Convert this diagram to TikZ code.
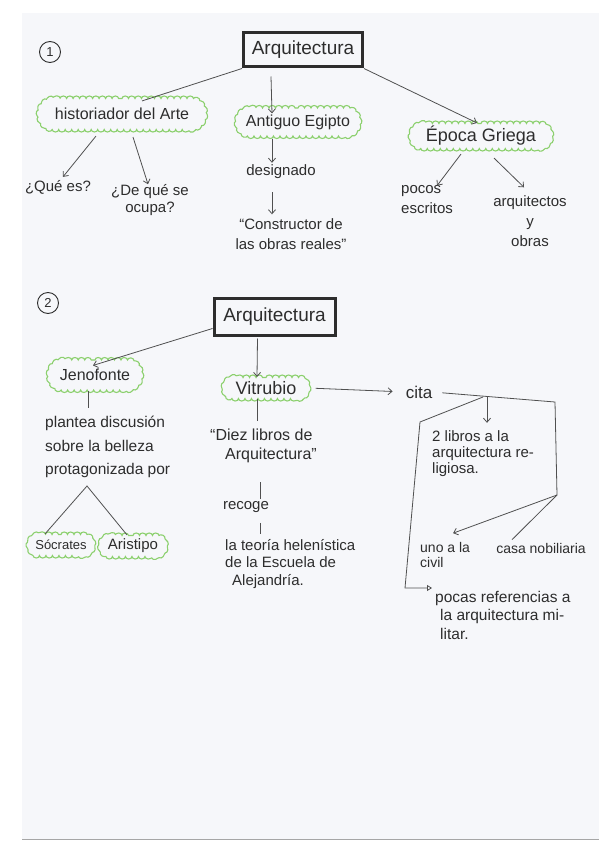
\documentclass[tikz,border=0pt]{standalone}
\usepackage{fontspec}
\setmainfont{Liberation Sans}
\usepackage{tikz}
\usetikzlibrary{shapes,shapes.misc,decorations.pathmorphing,arrows.meta,calc,positioning}
\definecolor{leaf}{RGB}{140,208,110}
\definecolor{ink}{RGB}{45,45,45}
\definecolor{pencil}{RGB}{80,80,80}
\definecolor{paper}{RGB}{246,247,250}
\tikzset{
	x=1pt,y=-1pt,
	title/.style={draw=ink,line width=3pt,minimum width=119pt,minimum height=34pt,inner sep=0pt,font=\fontsize{19}{19}\selectfont,text=ink},
	idea/.style={rounded rectangle,draw=leaf,line width=1.1pt,decorate,decoration={bumps,segment length=13pt,amplitude=2.5pt},inner sep=0pt,text=ink,font=\fontsize{16}{16}\selectfont},
	num/.style={circle,draw=ink,line width=0.9pt,minimum size=21pt,inner sep=0pt,font=\fontsize{13}{13}\selectfont,text=ink},
	txt/.style={inner sep=0pt,text=ink,font=\fontsize{15}{20}\selectfont},
	conn/.style={draw=pencil,line width=0.8pt},
	barb/.style={conn,-{Straight Barb[length=4pt,width=7pt]}},
	tri/.style={conn,-{Triangle[open,length=5pt,width=6pt]}},
	edge/.style={draw=black!35,line width=0.8pt}
}
\begin{document}
\begin{tikzpicture}
    \useasboundingbox (0,0) rectangle (599,848);
    \fill[paper] (22,13) rectangle (599,839);
    \draw[edge] (22,839) -- (599,839);

    \node[num] (one) at (50,52) {1};
    \node[title] (arq1) at (303,50) {Arquitectura};
    \node[idea,minimum width=166pt,minimum height=31pt] (hist) at (122,114) {historiador del Arte};
    \node[idea,minimum width=122pt,minimum height=28pt] (egipto) at (298,122) {Antiguo Egipto};
    \node[idea,minimum width=140pt,minimum height=25pt,font=\fontsize{18}{18}\selectfont] (griega) at (481,136) {Época Griega};
    \node[txt] (que) at (58,187) {¿Qué es?};
    \node[txt,align=center,font=\fontsize{15}{17}\selectfont] (ocupa) at (150,200) {¿De qué se\\ocupa?};
    \node[txt] (desig) at (281,172) {designado};
    \node[txt,align=center] (constr) at (291,234) {“Constructor de\\las obras reales”};
    \node[txt,align=left,anchor=west] (pocos) at (401,200) {pocos\\escritos};
    \node[txt,align=center] (arqobr) at (530,221) {arquitectos\\y\\obras};

    \draw[conn] (arq1.south west) -- ([xshift=20pt,yshift=-3pt]hist.north);
    \draw[barb] ([xshift=-32pt,yshift=-8pt]arq1.south) -- ([xshift=-26pt,yshift=-6pt]egipto.north);
    \draw[barb] (arq1.south east) -- ([xshift=-4pt]griega.north);
    \draw[barb] ([xshift=-26pt,yshift=-6pt]hist.south) -- ([xshift=5pt,yshift=3pt]que.north);
    \draw[barb] ([xshift=11pt,yshift=-7pt]hist.south) -- ([xshift=-2pt]ocupa.north);
    \draw[barb] ([xshift=-26pt,yshift=-2pt]egipto.south) -- ([xshift=-9pt,yshift=2pt]desig.north);
    \draw[barb] ([xshift=-9pt,yshift=-13pt]desig.south) -- ([xshift=-19pt,yshift=4pt]constr.north);
    \draw[barb] ([xshift=-20pt,yshift=-5pt]griega.south) -- ([xshift=10pt]pocos.north);
    \draw[barb] ([xshift=13pt,yshift=-9pt]griega.south) -- ([xshift=-6pt,yshift=8pt]arqobr.north);

    \node[num] (two) at (48,303) {2};
    \node[title,minimum width=121pt,minimum height=37pt] (arq2) at (274.5,316.5) {Arquitectura};
    \node[idea,minimum width=92pt,minimum height=30pt] (jeno) at (95,375) {Jenofonte};
    \node[idea,minimum width=84pt,minimum height=21pt,font=\fontsize{18}{18}\selectfont] (vitr) at (266,388) {Vitrubio};
    \node[txt,align=left,anchor=west,font=\fontsize{15.5}{23.5}\selectfont] (plantea) at (45,447) {plantea discusión\\sobre la belleza\\protagonizada por};
    \node[idea,minimum width=64pt,minimum height=21pt,font=\fontsize{13}{13}\selectfont] (socr) at (61,545) {Sócrates};
    \node[idea,minimum width=65pt,minimum height=21pt,font=\fontsize{15}{15}\selectfont] (arist) at (133,546) {Aristipo};
    \coordinate (apex) at (87,486);
    \node[txt,align=left,anchor=west,font=\fontsize{16}{19}\selectfont] (diez) at (210,446) {“Diez libros de\\\hspace*{15pt}Arquitectura”};
    \node[txt] (recoge) at (246,507) {recoge};
    \node[txt,align=left,anchor=west,font=\fontsize{15}{17.5}\selectfont] (teoria) at (225,564) {la teoría helenística\\de la Escuela de\\\hspace*{7pt}Alejandría.};
    \node[txt,font=\fontsize{17}{17}\selectfont] (cita) at (419,392) {cita};
    \coordinate (cr) at (555,402);
    \coordinate (cb) at (557,495);
    \coordinate (j1) at (487,396);
    \coordinate (j2) at (483,397);
    \coordinate (cl) at (420,422);
    \coordinate (cbl) at (405,588);
    \node[txt,align=left,anchor=west,font=\fontsize{15}{16}\selectfont] (libros) at (432,454) {2 libros a la\\arquitectura re-\\ligiosa.};
    \node[txt,align=left,anchor=west,font=\fontsize{14}{15}\selectfont] (uno) at (420,555) {uno a la\\civil};
    \node[txt,font=\fontsize{14}{14}\selectfont] (casa) at (541,548) {casa nobiliaria};
    \node[txt,align=left,anchor=west,font=\fontsize{15.5}{18.5}\selectfont] (pocas) at (435,615) {pocas referencias a\\\hspace*{5pt}la arquitectura mi-\\\hspace*{5pt}litar.};

    \draw[barb] ([yshift=-12pt]arq2.west) -- ([xshift=-2pt,yshift=-6pt]jeno.north);
    \draw[barb] ([xshift=-17pt,yshift=-2pt]arq2.south) -- ([xshift=-9pt]vitr.north);
    \draw[conn,shorten >=8pt] ([xshift=-7pt]jeno.south) -- ([xshift=-7pt]jeno.south |- plantea.north);
    \draw[conn] ([xshift=-16pt]socr.north) -- (apex) -- ([xshift=-6pt]arist.north);
    \draw[conn,shorten >=8pt] ([xshift=-9pt]vitr.south) -- ([xshift=-9pt]vitr.south |- diez.north);
    \draw[conn,shorten <=19pt,shorten >=2pt] ([xshift=14pt]recoge.north |- diez.south) -- ([xshift=14pt]recoge.north);
    \draw[conn,shorten <=10pt,shorten >=5pt] ([xshift=14pt]recoge.south) -- ([xshift=14pt]recoge.south |- teoria.north);
    \draw[barb,shorten <=7pt,shorten >=13pt] (vitr.east) -- (cita.west);
    \draw[conn,shorten <=10pt] (cita.east) -- (cr) -- (cb);
    \draw[barb,shorten >=8pt] (j1) -- (j1 |- libros.north);
    \draw[tri,shorten >=3pt] (j2) -- (cl) -- (cbl) -- (cbl -| pocas.west);
    \draw[barb] (cb) -- ([xshift=8pt,yshift=9pt]uno.north);
    \draw[conn] (cb) -- ([xshift=-29pt,yshift=3pt]casa.north);
\end{tikzpicture}
\end{document}
